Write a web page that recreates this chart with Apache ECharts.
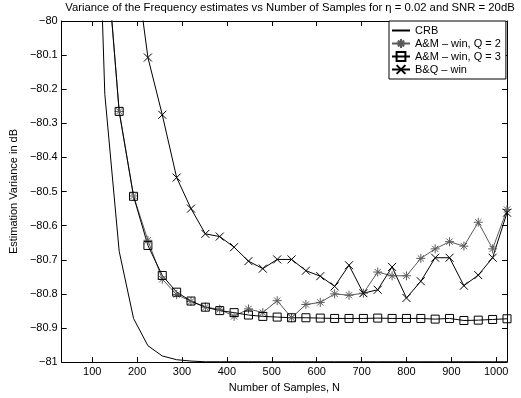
<!DOCTYPE html>
<html>
<head>
<meta charset="utf-8">
<script src="https://cdn.jsdelivr.net/npm/echarts@6/dist/echarts.min.js"></script>
<style>
  html, body { margin: 0; padding: 0; background: #fff; }
  #chart { width: 521px; height: 398px; }
</style>
</head>
<body>
<div id="chart"></div>
<script>
// number of samples N (step 32)
const samplesN = [32, 64, 96, 128, 160, 192, 224, 256, 288, 320, 352, 384, 416, 448, 480, 512,
    544, 576, 608, 640, 672, 704, 736, 768, 800, 832, 864, 896, 928, 960, 992, 1024]

// values (dB); null = not shown
const crb = [null, null, -78.9, -80.215, -80.675, -80.872, -80.952, -80.982, -80.993, -80.997,
    -80.999, -80.999, -80.999, -80.999, -80.999, -80.999, -80.999, -80.999, -80.999, -80.999,
    -80.999, -80.999, -80.999, -80.999, -80.999, -80.999, -80.999, -80.999, -80.999, -80.999,
    -80.999, -80.999]
const amQ2 = [null, null, null, -79.745, -80.265, -80.513, -80.643, -80.757, -80.802, -80.822,
    -80.839, -80.845, -80.866, -80.844, -80.855, -80.82, -80.87, -80.831, -80.825, -80.80,
    -80.804, -80.798, -80.736, -80.747, -80.747, -80.696, -80.668, -80.647, -80.66, -80.59,
    -80.668, -80.553]
const amQ3 = [null, null, null, -79.745, -80.265, -80.514, -80.658, -80.746, -80.795, -80.821,
    -80.839, -80.849, -80.855, -80.862, -80.866, -80.868, -80.870, -80.870, -80.871, -80.872,
    -80.872, -80.872, -80.871, -80.872, -80.872, -80.872, -80.874, -80.872, -80.878, -80.877,
    -80.875, -80.873]
const bq = [null, null, null, null, null, -79.79, -80.107, -80.275, -80.459, -80.55,
    -80.624, -80.632, -80.663, -80.704, -80.726, -80.699, -80.699, -80.732, -80.748, -80.778,
    -80.716, -80.798, -80.788, -80.721, -80.812, -80.763, -80.694, -80.694, -80.776, -80.745,
    -80.694, -80.562]

const xTicks = [100, 200, 300, 400, 500, 600, 700, 800, 900, 1000]

const FONT = 'Liberation Sans'
const GRAY = '#5a5a5a'
const CLEAR = 'rgba(0,0,0,0)'

// marker shapes (stroked, like matlab)
const ASTERISK = 'path://M5,0L5,10M0,5L10,5M1.5,1.5L8.5,8.5M8.5,1.5L1.5,8.5'
const SQUARE = 'path://M0,0L10,0L10,10L0,10Z'
const CROSS = 'path://M0,0L10,10M10,0L0,10'

function pairs(vals) {
    return samplesN.map((n, i) => [n, vals[i]])
}

function fmtY(v) {
    return String(Math.round(v * 10) / 10).replace('-', '\u2212')
}

const chart = echarts.init(document.getElementById('chart'))

chart.setOption({
    animation: false,
    title: {
        text: 'Variance of the Frequency estimates vs Number of Samples for \u03b7 = 0.02 and SNR = 20dB',
        left: 290,
        textAlign: 'center',
        top: 2,
        padding: 0,
        textStyle: { fontFamily: FONT, fontSize: 11.3, fontWeight: 'normal', color: '#000' }
    },
    grid: { left: 60, right: 14, top: 21, bottom: 31 },
    legend: {
        orient: 'vertical',
        left: 389,
        top: 21,
        itemWidth: 18,
        itemHeight: 11,
        itemGap: 2,
        padding: [4, 5, 4, 2],
        borderColor: '#000',
        borderWidth: 1,
        backgroundColor: '#fff',
        selectedMode: false,
        textStyle: { fontFamily: FONT, fontSize: 11, color: '#000' },
        data: [
            { name: 'CRB', itemStyle: { color: CLEAR, borderColor: CLEAR, borderWidth: 0 } },
            'A&M \u2013 win, Q = 2',
            'A&M \u2013 win, Q = 3',
            'B&Q \u2013 win'
        ]
    },
    xAxis: [{
        type: 'value',
        min: 32,
        max: 1024,
        name: 'Number of Samples, N',
        nameLocation: 'middle',
        nameGap: 13,
        nameTextStyle: { fontFamily: FONT, fontSize: 11, color: '#000' },
        axisLine: { show: true, lineStyle: { color: '#000' } },
        axisTick: { show: true, inside: true, length: 5, customValues: xTicks, lineStyle: { color: '#000', width: 1 } },
        axisLabel: {
            customValues: xTicks, margin: 4, fontFamily: FONT, fontSize: 11, color: '#000',
            formatter: v => String(v)
        },
        splitLine: { show: false }
    }, {
        type: 'value',
        position: 'top',
        min: 32,
        max: 1024,
        axisLine: { show: true, onZero: false, lineStyle: { color: '#000' } },
        axisTick: { show: true, inside: true, length: 5, customValues: xTicks, lineStyle: { color: '#000', width: 1 } },
        axisLabel: { show: false },
        splitLine: { show: false }
    }],
    yAxis: [{
        type: 'value',
        min: -81,
        max: -80,
        interval: 0.1,
        name: 'Estimation Variance in dB',
        nameLocation: 'middle',
        nameGap: 28,
        nameTextStyle: { fontFamily: FONT, fontSize: 11, color: '#000' },
        axisLine: { show: true, onZero: false, lineStyle: { color: '#000' } },
        axisTick: { show: true, inside: true, length: 5, lineStyle: { color: '#000', width: 1 } },
        axisLabel: { margin: 4, fontFamily: FONT, fontSize: 11, color: '#000', formatter: fmtY },
        splitLine: { show: false }
    }, {
        type: 'value',
        position: 'right',
        min: -81,
        max: -80,
        interval: 0.1,
        axisLine: { show: true, onZero: false, lineStyle: { color: '#000' } },
        axisTick: { show: true, inside: true, length: 5, lineStyle: { color: '#000', width: 1 } },
        axisLabel: { show: false },
        splitLine: { show: false }
    }],
    series: [{
        name: 'CRB',
        type: 'line',
        data: pairs(crb),
        symbol: 'none',
        lineStyle: { color: '#000', width: 1 },
        itemStyle: { color: '#000' }
    }, {
        name: 'A&M \u2013 win, Q = 2',
        type: 'line',
        data: pairs(amQ2),
        symbol: ASTERISK,
        symbolSize: 9,
        showAllSymbol: true,
        lineStyle: { color: GRAY, width: 1 },
        itemStyle: { color: GRAY, borderColor: GRAY, borderWidth: 1 }
    }, {
        name: 'A&M \u2013 win, Q = 3',
        type: 'line',
        data: pairs(amQ3),
        symbol: SQUARE,
        symbolSize: 8,
        showAllSymbol: true,
        lineStyle: { color: '#000', width: 1 },
        itemStyle: { color: CLEAR, borderColor: '#000', borderWidth: 1 }
    }, {
        name: 'B&Q \u2013 win',
        type: 'line',
        data: pairs(bq),
        symbol: CROSS,
        symbolSize: 8,
        showAllSymbol: true,
        lineStyle: { color: '#000', width: 1 },
        itemStyle: { color: '#000', borderColor: '#000', borderWidth: 1 }
    }]
})
</script>
</body>
</html>
